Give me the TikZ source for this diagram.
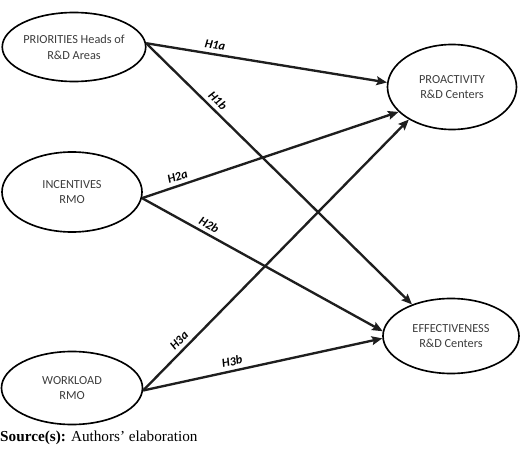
\documentclass[tikz,border=0pt]{standalone}
\usepackage{fontspec}
\setmainfont{Carlito}
\newfontfamily\srcfont{Liberation Serif}
\usetikzlibrary{positioning,arrows.meta,shapes.geometric}
\definecolor{txtcol}{RGB}{60,60,60}
\definecolor{linecol}{RGB}{30,30,30}

\begin{document}
\begin{tikzpicture}[x=0.03cm, y=-0.03cm,
  construct/.style={ellipse, draw=black, line width=1.4pt, inner sep=0pt,
                    font=\fontsize{10.5}{13.5}\selectfont, text=txtcol, align=center},
  ar/.style={-{Stealth[length=9pt,width=7.5pt,inset=1.5pt]}, line width=2pt, linecol},
  lbl/.style={font=\fontsize{10.5}{12}\selectfont\bfseries\itshape, text=black, sloped, above}
]
\useasboundingbox (0,0) rectangle (520,450);

\node[construct, minimum width=4.26cm, minimum height=2.07cm] (pri) at (74, 47)  {PRIORITIES Heads of\\R\&D Areas};
\node[construct, minimum width=4.2cm,  minimum height=2.4cm]  (inc) at (72, 192) {INCENTIVES\\RMO};
\node[construct, minimum width=4.23cm, minimum height=2.19cm] (wor) at (72, 388) {WORKLOAD\\RMO};

\node[construct, minimum width=3.87cm, minimum height=2.55cm] (pro) at (452, 87)  {PROACTIVITY\\R\&D Centers};
\node[construct, minimum width=4.08cm, minimum height=2.25cm] (eff) at (451, 336) {EFFECTIVENESS\\R\&D Centers};

\draw[ar] (pri.3)  -- node[lbl, pos=0.28]  {H1a} (pro.176);
\draw[ar] (pri.3)  -- node[lbl, pos=0.245] {H1b} (eff.141);
\draw[ar] (inc.-5) -- node[lbl, pos=0.15]  {H2a} (pro.205);
\draw[ar] (inc.-5) -- node[lbl, pos=0.26]  {H2b} (eff.176);
\draw[ar] (wor.-2) -- node[lbl, pos=0.16]  {H3a} (pro.217);
\draw[ar] (wor.-2) -- node[lbl, pos=0.38]  {H3b} (eff.182);

\node[anchor=west, inner sep=0pt, font=\srcfont\fontsize{13}{15}\selectfont] (src) at (0, 438)
  {\textbf{Source(s):} Authors’ elaboration};

\end{tikzpicture}
\end{document}
